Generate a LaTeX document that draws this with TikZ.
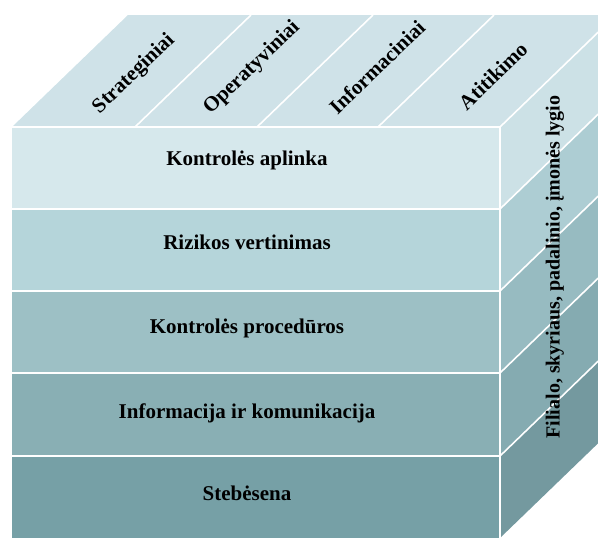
\documentclass[tikz,border=0pt]{standalone}
\usepackage{fontspec}
\setmainfont{Liberation Serif}
\definecolor{topc}{HTML}{CFE2E8}
\definecolor{fa}{HTML}{D6E8EC}
\definecolor{fb}{HTML}{B5D5DA}
\definecolor{fc}{HTML}{9DC0C5}
\definecolor{fd}{HTML}{89AFB4}
\definecolor{fe}{HTML}{76A0A6}
\definecolor{sa}{HTML}{CCE1E6}
\definecolor{sb}{HTML}{ADCDD3}
\definecolor{sc}{HTML}{97BBC1}
\definecolor{sd}{HTML}{85ABB1}
\definecolor{se}{HTML}{74999F}
\begin{document}
\begin{tikzpicture}[x=1pt,y=-1pt,
  lab/.style={font=\fontsize{21}{25}\selectfont\bfseries, inner sep=0pt},
  sidelab/.style={font=\fontsize{20}{24}\selectfont\bfseries, inner sep=0pt},
  sepline/.style={draw=white, line width=1.6pt}]
\useasboundingbox (0,0) rectangle (598,538);
\clip (0,0) rectangle (598,538);
% top face
\fill[topc] (12,127) -- (128,15) -- (616,15) -- (500,127) -- cycle;
% front bands and side bands
\foreach \ya/\yb/\cf/\cs in {127/209/fa/sa,209/291/fb/sb,291/373/fc/sc,373/456/fd/sd,456/538/fe/se}{
  \fill[\cf] (12,\ya) rectangle (500,\yb);
  \fill[\cs] (500,\ya) -- (616,\ya-112) -- (616,\yb-112) -- (500,\yb) -- cycle;
}
% separators
\foreach \y in {209,291,373,456}{
  \draw[sepline] (12,\y) -- (500,\y) -- (616,\y-112);
}
\draw[sepline] (12,127) -- (500,127);
\draw[sepline] (500,127) -- (500,538);
\foreach \x in {135,257,378,500}{
  \draw[sepline] (\x,127) -- (\x+116,15);
}
% labels on front
\node[lab, anchor=base] (k1) at (247,165) {Kontrolės aplinka};
\node[lab, anchor=base] (k2) at (247,249) {Rizikos vertinimas};
\node[lab, anchor=base] (k3) at (247,333) {Kontrolės procedūros};
\node[lab, anchor=base] (k4) at (247,418) {Informacija ir komunikacija};
\node[lab, anchor=base] (k5) at (247,500) {Stebėsena};
% labels on top
\node[lab, rotate=44] (t1) at (134,74) {Strateginiai};
\node[lab, rotate=44] (t2) at (252,68) {Operatyviniai};
\node[lab, rotate=44] (t3) at (377,67) {Informaciniai};
\node[lab, rotate=44] (t4) at (493,76) {Atitikimo};
% label on side
\node[sidelab, rotate=90] (s1) at (555,267) {Filialo, skyriaus, padalinio, įmonės lygio};
\end{tikzpicture}
\end{document}
